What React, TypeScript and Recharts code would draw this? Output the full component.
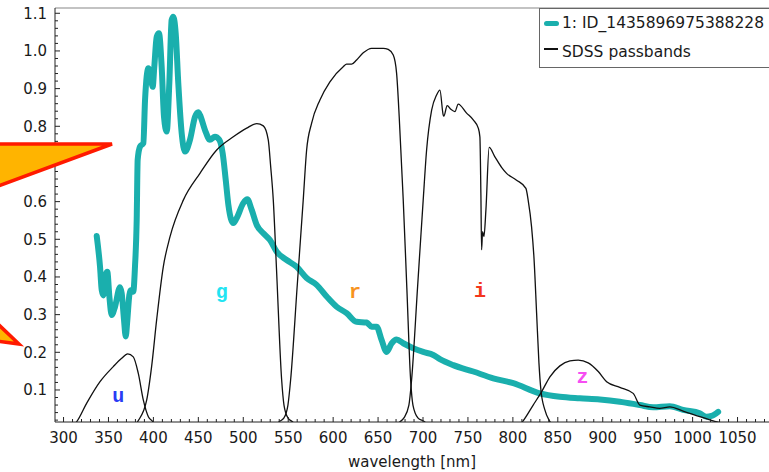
import React from 'react';
import { ComposedChart, Line, Scatter, XAxis, YAxis, ReferenceLine } from 'recharts';

// ---------- data ----------
const spectrum: [number, number][] = [
  [336.9, 0.509], [340.6, 0.427], [342.5, 0.365], [344.3, 0.351], [347.3, 0.409], [348.7, 0.414],
  [351, 0.348], [353.6, 0.299], [357.3, 0.321], [362.8, 0.373], [364.7, 0.357], [367.3, 0.286],
  [369.2, 0.242], [371, 0.286], [373.2, 0.352], [374.7, 0.365], [377.6, 0.361], [379.5, 0.427],
  [381.4, 0.551], [382.5, 0.711], [385.1, 0.746], [388.8, 0.755], [390.7, 0.87], [394.4, 0.954],
  [397, 0.932], [399.2, 0.905], [401, 0.958], [403.7, 1.038], [406.2, 1.047], [409.2, 0.958],
  [411.8, 0.825], [414.8, 0.786], [417.7, 0.914], [420.3, 1.082], [422.1, 1.091], [424.8, 1.047],
  [427.7, 0.914], [431.5, 0.781], [435.2, 0.733], [440.7, 0.764], [446.3, 0.825], [449.9, 0.837],
  [451.8, 0.83], [457.4, 0.79], [462.9, 0.764], [468.5, 0.772], [473.3, 0.764], [477.1, 0.728],
  [480.5, 0.657], [483.5, 0.59], [488.9, 0.543], [492.6, 0.556], [500, 0.596], [504.5, 0.606],
  [509.4, 0.578], [515, 0.538], [522.3, 0.516], [529.7, 0.498], [537.2, 0.467], [548.3, 0.445],
  [559.4, 0.427], [570.5, 0.397], [581.6, 0.379], [592.8, 0.348], [603.9, 0.321], [615, 0.304],
  [626.1, 0.281], [637.3, 0.279], [642.8, 0.268], [648.4, 0.268], [653.9, 0.233], [659.5, 0.201],
  [665.1, 0.224], [670.6, 0.234], [678, 0.224], [689.1, 0.211], [700.2, 0.201], [711.4, 0.193],
  [718.8, 0.182], [733.6, 0.166], [755.9, 0.149], [778.1, 0.131], [800.4, 0.118], [830, 0.091],
  [852.3, 0.082], [874.5, 0.078], [896.8, 0.075], [919, 0.069], [941.3, 0.06], [956.1, 0.054],
  [974.6, 0.057], [989.4, 0.047], [1008, 0.038], [1015.5, 0.029], [1021, 0.031], [1028.4, 0.042],
];

const uBand: [number, number][] = [
  [305, 0], [314.7, 0.016], [325.8, 0.065], [340.6, 0.122], [355.4, 0.162], [364.7, 0.184],
  [371.4, 0.196], [377.6, 0.188], [383.2, 0.144], [388.8, 0.073], [394.4, 0.029], [399.2, 0.016], [403, 0],
];

const gBand: [number, number][] = [
  [378, 0], [382.5, 0.016], [392.5, 0.073], [398, 0.162], [403.6, 0.286], [411, 0.427],
  [418.5, 0.507], [433.3, 0.604], [451.8, 0.675], [470.4, 0.737], [488.9, 0.772], [503.8, 0.795],
  [515, 0.807], [522.3, 0.801], [527.8, 0.764], [530.5, 0.693], [533.4, 0.604], [537, 0.42],
  [542.7, 0.127], [545.3, 0.06], [549.7, 0.026], [555, 0.015], [560, 0],
];

const rBand: [number, number][] = [
  [535, 0], [539.7, 0.015], [545.3, 0.026], [549.7, 0.06], [552.7, 0.127], [560, 0.376],
  [566.7, 0.604], [570.5, 0.737], [576, 0.808], [585.3, 0.87], [596.4, 0.918], [611.2, 0.958],
  [615, 0.965], [620.6, 0.965], [626.1, 0.976], [633.5, 0.995], [642.8, 1.007], [655.7, 1.007],
  [661.3, 1.004], [666.9, 0.989], [670.6, 0.941], [673.5, 0.826], [676.2, 0.693], [678, 0.604],
  [682, 0.371], [686.2, 0.127], [688.8, 0.06], [694.3, 0.026], [702, 0.015], [707, 0],
];

const iBand: [number, number][] = [
  [666, 0], [670, 0.008], [674, 0.015], [678.8, 0.026], [684.3, 0.06], [687.3, 0.127],
  [694, 0.375], [700.2, 0.604], [704, 0.737], [709.6, 0.843], [715.1, 0.883], [718.8, 0.896],
  [722.5, 0.83], [723.2, 0.827], [726.9, 0.855], [731, 0.845], [735.5, 0.839], [739.2, 0.859],
  [748.5, 0.835], [755.9, 0.817], [761.5, 0.795], [763.3, 0.772], [764.4, 0.622], [765.2, 0.472],
  [766.3, 0.52], [767.8, 0.507], [770, 0.578], [773.6, 0.744], [780, 0.719], [787.4, 0.691],
  [793, 0.675], [804.1, 0.657], [814.5, 0.635], [817, 0.604], [820.8, 0.533], [823.5, 0.45],
  [826.4, 0.304], [829, 0.172], [831.2, 0.1], [835.6, 0.047], [841.2, 0.016], [846, 0],
];

const zBand: [number, number][] = [
  [805, 0], [810.8, 0.016], [822.6, 0.06], [831.9, 0.095], [841.2, 0.135], [852.3, 0.164],
  [863.5, 0.177], [872.7, 0.179], [883.8, 0.172], [895, 0.149], [904.3, 0.122], [919, 0.107],
  [933.9, 0.091], [941.3, 0.06], [952.4, 0.055], [963.5, 0.051], [974.6, 0.055], [989.4, 0.044],
  [1008, 0.029], [1022.8, 0.018], [1034, 0.01], [1040, 0.005],
];

const bandLetters = ['u', 'g', 'r', 'i', 'z'];
const bandLetterWl = [361, 476, 624.3, 763.5, 877.5];
const bandLetterY = [0.081, 0.357, 0.358, 0.361, 0.131];
const bandLetterColors = ['#2a3cf5', '#22e4f2', '#f7931e', '#f4361c', '#f64ef2'];

const xMajorTicks = [300, 350, 400, 450, 500, 550, 600, 650, 700, 750, 800, 850, 900, 950, 1000, 1050];
const yMajorTicks = [0.1, 0.2, 0.3, 0.4, 0.5, 0.6, 0.7, 0.8, 0.9, 1.0, 1.1];
const X_DOMAIN: [number, number] = [290.5, 1085];
const Y_DOMAIN: [number, number] = [0.015, 1.114];

const seriesName = '1: ID_1435896975388228';
const bandsName = 'SDSS passbands';
const xLabel = 'wavelength [nm]';

// minor tick positions (10 nm and 0.02 steps)
const xTicks: number[] = [];
for (let v = 300; v <= 1080; v += 10) xTicks.push(v);
const yTicks: number[] = [];
for (let k = 1; k <= 55; k++) yTicks.push(Math.round(k * 2) / 100);

const toPts = (arr: [number, number][]) => arr.map(([x, y]) => ({ x, y }));
const letterPts = bandLetters.map((l, i) => ({ x: bandLetterWl[i], y: bandLetterY[i], label: l, color: bandLetterColors[i] }));

const FONT = '"DejaVu Sans", sans-serif';

const XTick = (props: any) => {
  const { x, y, payload } = props;
  const v = payload.value;
  const major = xMajorTicks.includes(v);
  return (
    <g>
      <line x1={x} x2={x} y1={y} y2={y - (major ? 5 : 3)} stroke="#222" strokeWidth={1} />
      {major && (
        <text x={x} y={y + 21} textAnchor="middle" fontSize={15} fill="#1a1a1a" fontFamily={FONT}>
          {v}
        </text>
      )}
    </g>
  );
};

const YTick = (props: any) => {
  const { x, y, payload } = props;
  const v = payload.value;
  const major = yMajorTicks.some((t) => Math.abs(t - v) < 1e-6);
  return (
    <g>
      <line x1={x} x2={x + (major ? 5 : 3)} y1={y} y2={y} stroke="#222" strokeWidth={1} />
      {major && (
        <text x={x - 8} y={y + 5.5} textAnchor="end" fontSize={15} fill="#1a1a1a" fontFamily={FONT}>
          {v.toFixed(1)}
        </text>
      )}
    </g>
  );
};

const LetterShape = (props: any) => {
  const { cx, cy, payload } = props;
  return (
    <text x={cx} y={cy + 5} textAnchor="middle" fontSize={20} fontWeight="bold"
      fontFamily='"Liberation Mono", "DejaVu Sans Mono", monospace' fill={payload.color}>
      {payload.label}
    </text>
  );
};

export default function App() {
  return (
    <div style={{ position: 'absolute', left: 0, top: 0, width: 769, height: 472, overflow: 'hidden', background: '#fff', fontFamily: FONT }}>
      <ComposedChart width={769} height={472} margin={{ top: 8, right: 0, bottom: 0, left: 0 }}>
        <XAxis
          type="number"
          dataKey="x"
          domain={X_DOMAIN}
          allowDataOverflow
          ticks={xTicks}
          interval={0}
          tickSize={0}
          tickMargin={0}
          tick={<XTick />}
          height={50}
          axisLine={{ stroke: '#222' }}
          tickLine={false}
          label={{ value: xLabel, position: 'insideBottom', offset: 5, fill: '#1a1a1a', fontSize: 15, fontFamily: FONT }}
        />
        <YAxis
          type="number"
          dataKey="y"
          domain={Y_DOMAIN}
          allowDataOverflow
          ticks={yTicks}
          interval={0}
          tickSize={0}
          tickMargin={0}
          tick={<YTick />}
          width={55}
          axisLine={{ stroke: '#222' }}
          tickLine={false}
        />
        <ReferenceLine y={Y_DOMAIN[1]} stroke="#888" strokeWidth={1.2} ifOverflow="visible" />
        <Line data={toPts(spectrum)} dataKey="y" type="monotone" stroke="#1aafad" strokeWidth={6}
          dot={false} activeDot={false} isAnimationActive={false} strokeLinejoin="round" strokeLinecap="round" />
        {[uBand, gBand, rBand, iBand, zBand].map((b, i) => (
          <Line key={i} data={toPts(b)} dataKey="y" type="monotone" stroke="#111" strokeWidth={1.3}
            dot={false} activeDot={false} isAnimationActive={false} />
        ))}
        <Scatter data={letterPts} dataKey="y" shape={<LetterShape />} isAnimationActive={false} />
      </ComposedChart>

      {/* legend */}
      <div style={{ position: 'absolute', left: 539, top: 8, width: 240, height: 60, border: '1px solid #666', boxSizing: 'border-box', background: '#fff' }}>
        <div style={{ position: 'absolute', left: 4, top: 12, width: 15, height: 5, borderRadius: 3, background: '#1aafad' }} />
        <div style={{ position: 'absolute', left: 22, top: 5, fontSize: 15.5, lineHeight: '18px', color: '#1a1a1a', whiteSpace: 'nowrap' }}>{seriesName}</div>
        <div style={{ position: 'absolute', left: 4, top: 39, width: 14, height: 1.5, background: '#111' }} />
        <div style={{ position: 'absolute', left: 22, top: 34, fontSize: 15.5, lineHeight: '18px', color: '#1a1a1a', whiteSpace: 'nowrap' }}>{bandsName}</div>
      </div>

      {/* annotation arrows */}
      <svg width={769} height={472} style={{ position: 'absolute', left: 0, top: 0, pointerEvents: 'none' }}>
        <polygon points="-10,144 112,144 -10,189" fill="#ffb400" stroke="#ff1a00" strokeWidth={3.5} strokeLinejoin="miter" />
        <polygon points="-20,307 19,344 -20,339" fill="#ffb400" stroke="#ff1a00" strokeWidth={3.5} strokeLinejoin="miter" />
      </svg>
    </div>
  );
}
